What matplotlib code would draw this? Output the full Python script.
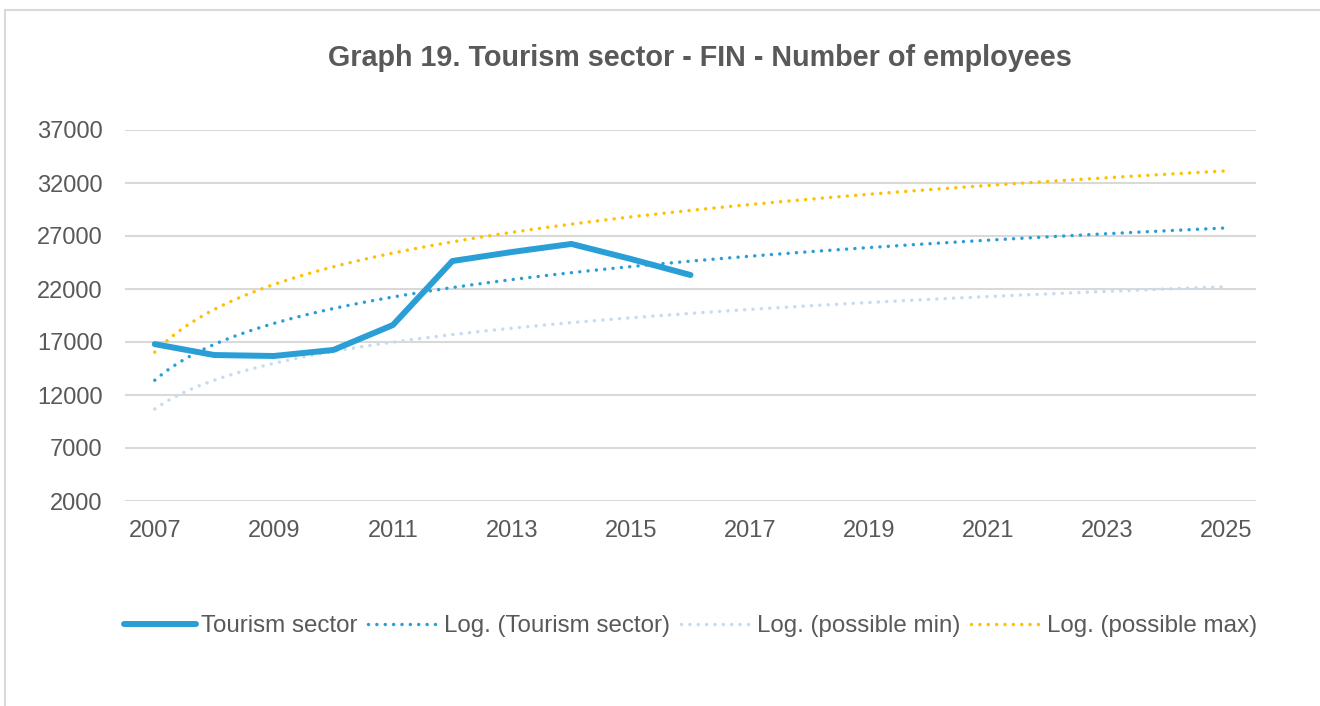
import matplotlib
matplotlib.use('Agg')
import matplotlib.pyplot as plt
import numpy as np
from matplotlib.patches import Rectangle

plt.rcParams['font.family'] = ['Liberation Sans', 'DejaVu Sans']

#------------------------
# data
#------------------------
years = list(range(2007, 2026))
tourism_years = list(range(2007, 2017))
tourism = [16800, 15770, 15680, 16250, 18600, 24640, 25490, 26250, 24830, 23320]

# points
min_years = [2007, 2009, 2011, 2016, 2021, 2025]
possible_min = [10700, 14950, 16980, 19750, 21280, 22200]
max_years = [2007, 2009, 2011, 2016, 2021, 2025]
possible_max = [16050, 22420, 25390, 29400, 31780, 33150]

yticks = [2000, 7000, 12000, 17000, 22000, 27000, 32000, 37000]
xticks = list(range(2007, 2026, 2))

txt = '#595959'
blue = '#2a9fd6'
light = '#c4dbf1'
gold = '#ffc000'


def log_trend(xs, ys):
    # excel style log trendline, x is the category index (1..n)
    idx = np.array(xs) - 2006
    a, b = np.polyfit(np.log(idx), ys, 1)
    fine = np.linspace(1, len(years), 400)
    return fine + 2006, a * np.log(fine) + b


fig = plt.figure(figsize=(13.2, 7.06), dpi=100)
ax = fig.add_axes([125 / 1320, 1 - 501 / 706, (1256 - 125) / 1320, (501 - 130) / 706])

# chart area border (only top/left visible in the crop)
fig.patches.append(Rectangle((5 / 1320, -0.1), 1.2, 1.1 - 10 / 706,
                             transform=fig.transFigure, fill=False,
                             edgecolor='#d9d9d9', linewidth=1.5))

dot = (0, (0.01, 2.4))
ax.plot(tourism_years, tourism, color=blue, linewidth=4.3, solid_capstyle='round',
        solid_joinstyle='round', label='Tourism sector', zorder=5)
tx, ty = log_trend(tourism_years, tourism)
ax.plot(tx, ty, color=blue, linewidth=2.5, linestyle=dot, dash_capstyle='round',
        label='Log. (Tourism sector)', zorder=4)
mx, my = log_trend(min_years, possible_min)
ax.plot(mx, my, color=light, linewidth=2.5, linestyle=dot, dash_capstyle='round',
        label='Log. (possible min)', zorder=3)
gx, gy = log_trend(max_years, possible_max)
ax.plot(gx, gy, color=gold, linewidth=2.5, linestyle=dot, dash_capstyle='round',
        label='Log. (possible max)', zorder=3)

ax.set_xlim(2006.5, 2025.5)
ax.set_ylim(2000, 37000)
ax.set_yticks(yticks)
ax.set_xticks(xticks)
ax.grid(axis='y', color='#d9d9d9', linewidth=1.5)
ax.set_axisbelow(True)
for s in ax.spines.values():
    s.set_visible(False)
ax.tick_params(length=0, labelsize=17, labelcolor=txt)
ax.tick_params(axis='y', pad=16)
ax.tick_params(axis='x', pad=14)

fig.text(700 / 1320, 1 - 58 / 706, 'Graph 19. Tourism sector - FIN - Number of employees',
         ha='center', va='center', fontsize=20.7, fontweight='bold', color=txt)

leg = fig.legend(loc='center', bbox_to_anchor=(691 / 1320, 1 - 626 / 706), ncol=4,
                 frameon=False, fontsize=17.4, handlelength=2.95, handletextpad=0.2,
                 columnspacing=0.45)
for t in leg.get_texts():
    t.set_color(txt)

fig.savefig('out.png', dpi=100)
